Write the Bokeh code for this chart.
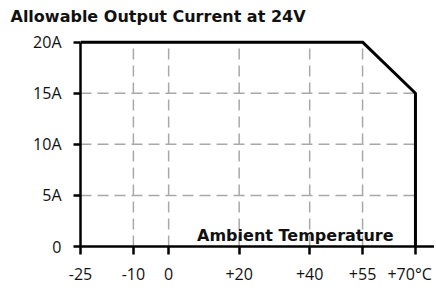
from bokeh.plotting import figure
from bokeh.models import Range1d, FixedTicker, Label
from bokeh.embed import file_html
from bokeh.resources import INLINE

# data
temps = [-25, 55, 70, 70]
current = [20, 20, 15, 0]
x_ticks = [-25, -10, 0, 20, 40, 55, 70]
x_labels = ["-25", "-10", "0", "+20", "+40", "+55", "+70°C\u2009"]
y_ticks = [0, 5, 10, 15, 20]
y_labels = ["0", "5A", "10A", "15A", "20A"]
vgrid_x = [-10, 0, 20, 40, 55]
hgrid_y = [5, 10, 15]
title_text = "Allowable Output Current at 24V"
xlabel_text = "Ambient Temperature"

FONT = "Open Sans"
BOLD_FONT = "DejaVu Sans"

p = figure(width=434, height=287, output_backend="svg", toolbar_location=None,
           x_range=Range1d(-25, 75.4), y_range=Range1d(0, 21.14),
           min_border_left=80, min_border_right=0, min_border_top=30, min_border_bottom=35)
p.outline_line_color = None
p.xgrid.visible = False
p.ygrid.visible = False

p.title.text = title_text
p.title.align = "left"
p.title.offset = -70
p.title.standoff = 9
p.title.text_font = BOLD_FONT
p.title.text_font_size = "16px"
p.title.text_font_style = "bold"
p.title.text_color = "#111111"

# grid lines
p.segment(x0=vgrid_x, y0=[0]*len(vgrid_x), x1=vgrid_x, y1=[20]*len(vgrid_x),
          line_color="#a8a8a8", line_width=1.5, line_dash="11 6")
p.segment(x0=[-25]*len(hgrid_y), y0=hgrid_y, x1=[70]*len(hgrid_y), y1=hgrid_y,
          line_color="#a8a8a8", line_width=1.5, line_dash="11 6")

# curve
p.line(temps, current, line_color="black", line_width=3)

for ax in (p.xaxis[0], p.yaxis[0]):
    ax.axis_line_width = 2.5
    ax.axis_line_color = "black"
    ax.major_tick_line_width = 2.5
    ax.major_tick_line_color = "black"
    ax.major_tick_in = 0
    ax.minor_tick_line_color = None
    ax.major_label_text_font = FONT
    ax.major_label_text_font_size = "16px"
    ax.major_label_text_color = "#111111"

p.xaxis.ticker = FixedTicker(ticks=x_ticks)
p.xaxis.major_label_overrides = {t: l for t, l in zip(x_ticks, x_labels)}
p.xaxis.major_tick_out = 8
p.xaxis.major_label_standoff = 8

p.yaxis.ticker = FixedTicker(ticks=y_ticks)
p.yaxis.major_label_overrides = {t: l for t, l in zip(y_ticks, y_labels)}
p.yaxis.major_tick_out = 7
p.yaxis.major_label_standoff = 12
p.yaxis.bounds = (0, 20)

p.add_layout(Label(x=63.8, y=1.05, text=xlabel_text, text_align="right",
                   text_baseline="alphabetic", text_font=BOLD_FONT, text_font_size="16px",
                   text_font_style="bold", text_color="#111111"))

open("out.html", "w").write(file_html(p, INLINE))
